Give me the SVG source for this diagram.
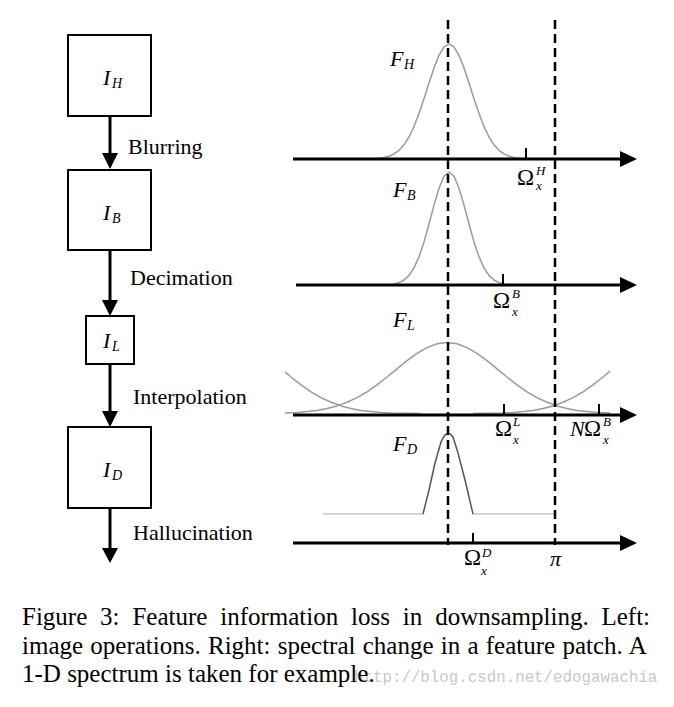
<svg xmlns="http://www.w3.org/2000/svg" width="674" height="707" viewBox="0 0 674 707">
<style>
.box{fill:#fff;stroke:#000;stroke-width:2}
.shaft{stroke:#000;stroke-width:3;fill:none}
.head{fill:#000}
.lbl{font-family:"Liberation Serif","Times New Roman",serif;font-size:22px;fill:#000}
.it{font-family:"Liberation Serif","Times New Roman",serif;font-style:italic;font-size:22px;fill:#000}
.sub{font-family:"Liberation Serif","Times New Roman",serif;font-style:italic;font-size:14px;fill:#000}
.om{font-family:"Liberation Serif","Times New Roman",serif;font-size:23px;fill:#000}
.sup{font-family:"Liberation Serif","Times New Roman",serif;font-style:italic;font-size:13px;fill:#000}
.axis{stroke:#000;stroke-width:3;fill:none}
.tick{stroke:#000;stroke-width:2}
.dash{stroke:#000;stroke-width:2.5;stroke-dasharray:9 5;fill:none}
.curve{stroke:#9a9a9a;stroke-width:1.5;fill:none;stroke-linejoin:round}
.flat{stroke:#c4c4c4;stroke-width:1.5;fill:none}
.peak{stroke:#555;stroke-width:1.5;fill:none;stroke-linejoin:round}
.cap{font-family:"Liberation Serif","Times New Roman",serif;font-size:25px;fill:#000}
.wm{font-family:"Liberation Mono","DejaVu Sans Mono",monospace;font-size:15.8px;fill:#c8c8c8}
</style>
<rect width="674" height="707" fill="#fff"/>

<g id="node-IH"><rect class="box" x="68" y="35" width="83" height="81"/><text class="it" x="103" y="85">I</text><text class="sub" x="112" y="88">H</text></g>
<g id="node-IB"><rect class="box" x="68" y="170" width="83" height="80"/><text class="it" x="103" y="220">I</text><text class="sub" x="112" y="223">B</text></g>
<g id="node-IL"><rect class="box" x="86" y="316" width="48" height="48"/><text class="it" x="103" y="348">I</text><text class="sub" x="112" y="351">L</text></g>
<g id="node-ID"><rect class="box" x="68" y="427" width="83" height="81"/><text class="it" x="103" y="477">I</text><text class="sub" x="112" y="480">D</text></g>

<g id="connectors">
<line class="shaft" x1="110" y1="116" x2="110" y2="154"/><polygon class="head" points="102,153 118,153 110,169"/>
<line class="shaft" x1="110" y1="250" x2="110" y2="301"/><polygon class="head" points="102,300 118,300 110,316"/>
<line class="shaft" x1="110" y1="364" x2="110" y2="412"/><polygon class="head" points="102,411 118,411 110,427"/>
<line class="shaft" x1="110" y1="508" x2="110" y2="549"/><polygon class="head" points="102,548 118,548 110,563"/>
</g>
<g id="op-labels">
<text class="lbl" x="128" y="154">Blurring</text>
<text class="lbl" x="130" y="285">Decimation</text>
<text class="lbl" x="133" y="404">Interpolation</text>
<text class="lbl" x="133" y="540">Hallucination</text>
</g>

<g id="spectra">
<polyline class="curve" points="369,158.9 379,158.3 384,157.5 389,156.2 394,153.9 399,150.3 404,144.8 409,137 414,126.6 419,113.6 424,98.7 429,82.9 434,67.9 439,55.3 444,46.9 449,44 454,46.9 459,55.3 464,67.9 469,82.9 474,98.7 479,113.6 484,126.6 489,137 494,144.8 499,150.3 504,153.9 509,156.2 514,157.5 519,158.3 529,158.9"/>
<polyline class="curve" points="394,283.9 399,282.6 404,280 409,275.4 414,267.9 419,256.8 424,241.9 429,224 434,205.1 439,188.2 444,176.3 449,172 454,176.3 459,188.2 464,205.1 469,224 474,241.9 479,256.8 484,267.9 489,275.4 494,280 499,282.6 504,283.9"/>
<polyline class="curve" points="285,412.9 297,412.4 307,411.6 317,410.4 327,408.5 337,405.9 347,402.3 357,397.6 367,391.8 377,384.8 387,377 397,368.8 407,360.7 417,353.4 427,347.6 437,343.8 447,342.5 457,343.8 467,347.6 477,353.4 487,360.7 497,368.8 507,377 517,384.8 527,391.8 537,397.6 547,402.3 557,405.9 567,408.5 577,410.4 587,411.6 597,412.4 610,412.9"/>
<polyline class="curve" points="285,372.1 291,377 301,384.8 311,391.8 321,397.6 331,402.3 341,405.9 351,408.5 361,410.4 371,411.6 381,412.4 391,412.9 421,413.4"/>
<polyline class="curve" points="473,413.4 503,412.9 513,412.4 523,411.6 533,410.4 543,408.5 553,405.9 563,402.3 573,397.6 583,391.8 593,384.8 603,377 610,371.2"/>
<polyline class="flat" points="323,514 423,514"/>
<polyline class="flat" points="473,514 554,514"/>
<path class="peak" d="M423,514 L429,490 L435,463 L441,442 Q447,428 453,437 L458,453 L465,480 L473,514"/>
</g>

<g id="axes">
<line class="axis" x1="293" y1="159" x2="622" y2="159"/><polygon class="head" points="620,151 637,159 620,167"/>
<line class="axis" x1="296" y1="285" x2="622" y2="285"/><polygon class="head" points="620,277 637,285 620,293"/>
<line class="axis" x1="293" y1="415" x2="622" y2="415"/><polygon class="head" points="620,407 637,415 620,423"/>
<line class="axis" x1="293" y1="543" x2="622" y2="543"/><polygon class="head" points="620,535 637,543 620,551"/>
<line class="tick" x1="526" y1="148" x2="526" y2="159"/>
<line class="tick" x1="503" y1="274" x2="503" y2="285"/>
<line class="tick" x1="504" y1="404" x2="504" y2="415"/>
<line class="tick" x1="599" y1="404" x2="599" y2="415"/>
<line class="tick" x1="473" y1="533" x2="473" y2="543"/>
<line class="dash" x1="448" y1="20" x2="448" y2="545"/>
<line class="dash" x1="555" y1="20" x2="555" y2="545"/>
</g>

<g id="spectrum-labels">
<text class="it" x="390" y="66">F</text><text class="sub" x="404" y="69">H</text>
<text class="it" x="393" y="197">F</text><text class="sub" x="407" y="200">B</text>
<text class="it" x="393" y="327">F</text><text class="sub" x="407" y="330">L</text>
<text class="it" x="393" y="451">F</text><text class="sub" x="407" y="454">D</text>
<text class="om" x="517" y="185">Ω</text><text class="sup" x="536" y="175">H</text><text class="sup" x="536" y="190">x</text>
<text class="om" x="493" y="308">Ω</text><text class="sup" x="512" y="298">B</text><text class="sup" x="512" y="316">x</text>
<text class="om" x="495" y="436">Ω</text><text class="sup" x="513" y="426">L</text><text class="sup" x="513" y="444">x</text>
<text class="it" x="570" y="436">N</text><text class="om" x="584" y="436">Ω</text><text class="sup" x="603" y="426">B</text><text class="sup" x="603" y="444">x</text>
<text class="om" x="464" y="565">Ω</text><text class="sup" x="482" y="557">D</text><text class="sup" x="481" y="575">x</text>
<text class="it" x="550" y="566">π</text>
</g>

<g id="caption">
<text class="wm" x="354" y="682">http://blog.csdn.net/edogawachia</text>
<text class="cap" x="22" y="625" style="word-spacing:6.6px">Figure 3: Feature information loss in downsampling. Left:</text>
<text class="cap" x="22" y="654" style="word-spacing:1px">image operations. Right: spectral change in a feature patch. A</text>
<text class="cap" x="22" y="682">1-D spectrum is taken for example.</text>
</g>
</svg>
